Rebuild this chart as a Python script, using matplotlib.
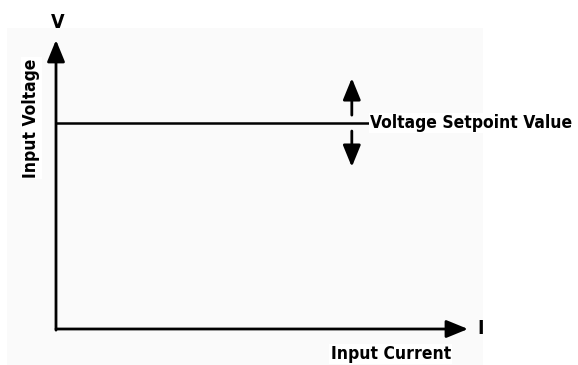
import matplotlib
matplotlib.use('Agg')
import matplotlib.pyplot as plt
from matplotlib.patches import Rectangle

plt.rcParams['font.family'] = ['DejaVu Sans']
plt.rcParams['font.stretch'] = 'condensed'

# diagram values (axis units, 0..1)
setpoint = 0.713
line_end = 0.762
arrow_x = 0.718
up_arrow = (0.740, 0.868)
down_arrow = (0.685, 0.561)

axis_labels = ['Input Current', 'Input Voltage']
axis_symbols = ['I', 'V']
setpoint_label = 'Voltage Setpoint Value'

fig = plt.figure(figsize=(5.78, 3.65), dpi=100)
fig.patch.set_facecolor('white')

# faint grey panel behind the diagram
bg = fig.add_axes([0, 0, 1, 1], zorder=0)
bg.set_xlim(0, 578)
bg.set_ylim(365, 0)
bg.axis('off')
bg.add_patch(Rectangle((7, 28), 476, 337, facecolor='#fafafa', edgecolor='none'))

ax = fig.add_axes([56 / 578, 36 / 365, 412 / 578, 289 / 365], zorder=1)
ax.set_xlim(0, 1)
ax.set_ylim(0, 1)
ax.axis('off')

head = '-|>,head_length=1.1,head_width=0.45'
arrow_kw = dict(arrowstyle=head, color='black', lw=2.0, mutation_scale=12, shrinkA=0, shrinkB=0)

# axes with arrow heads
ax.annotate('', xy=(1, 0), xytext=(0, 0), arrowprops=arrow_kw, annotation_clip=False)
ax.annotate('', xy=(0, 1), xytext=(0, -0.004), arrowprops=arrow_kw, annotation_clip=False)

# setpoint line
ax.plot([0, line_end], [setpoint, setpoint], color='black', lw=1.8, clip_on=False)

# up / down arrows
ax.annotate('', xy=(arrow_x, up_arrow[1]), xytext=(arrow_x, up_arrow[0]), arrowprops=arrow_kw)
ax.annotate('', xy=(arrow_x, down_arrow[1]), xytext=(arrow_x, down_arrow[0]), arrowprops=arrow_kw)

ax.text(line_end, setpoint, setpoint_label, fontsize=12.5, fontweight='bold', ha='left', va='center',
        clip_on=False, bbox=dict(facecolor='white', edgecolor='none', pad=1))

ax.text(1.03, 0.0, axis_symbols[0], fontsize=14, fontweight='bold', ha='center', va='center')
ax.text(0.004, 1.059, axis_symbols[1], fontsize=14, fontweight='bold', ha='center', va='center')

ax.text(0.813, -0.0865, axis_labels[0], fontsize=12.5, fontweight='bold', ha='center', va='center',
        bbox=dict(facecolor='white', edgecolor='none', pad=1))
ax.text(-0.06, 0.73, axis_labels[1], fontsize=12.5, fontweight='bold', ha='center', va='center',
        rotation=90, bbox=dict(facecolor='white', edgecolor='none', pad=1))

fig.savefig('out.png', dpi=100)
